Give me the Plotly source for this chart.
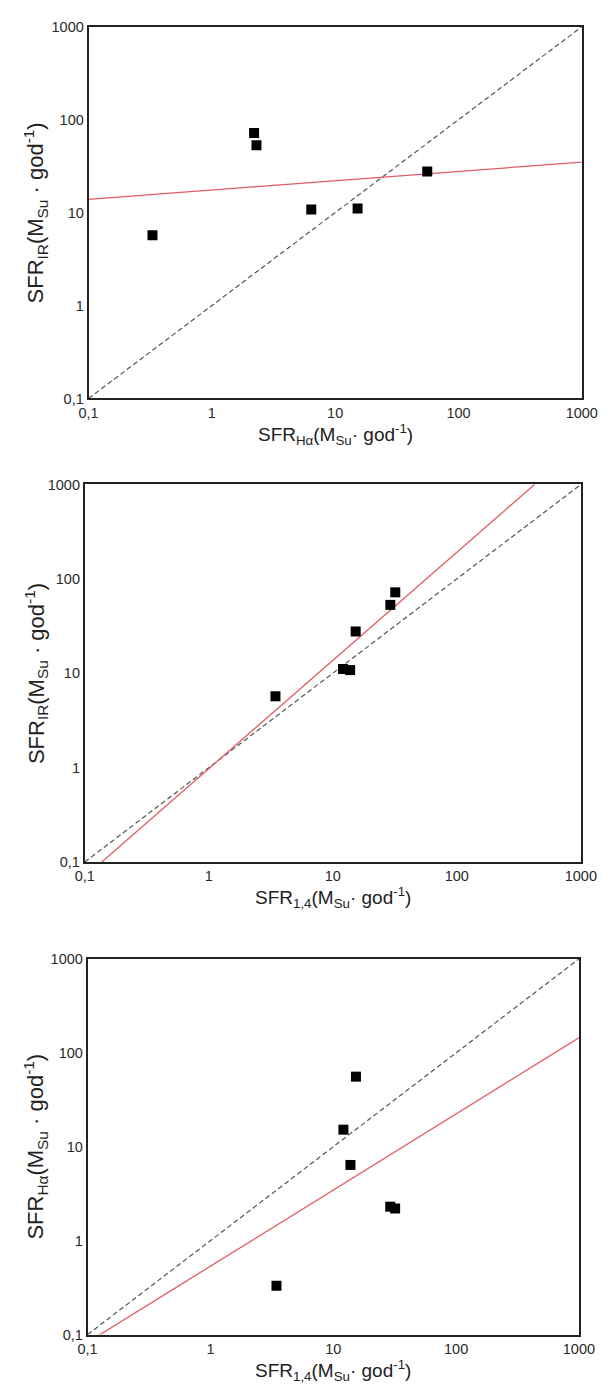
import plotly.graph_objects as go

# ---- data ----
sfr_ha = [0.33, 2.2, 2.3, 6.4, 15.2, 55.8]     # SFR(H-alpha)
sfr_ir = [5.7, 72, 53, 10.8, 11.1, 27.7]       # SFR(IR)
sfr_14 = [3.45, 31.9, 29.1, 13.8, 12.1, 15.3]  # SFR(1.4 GHz)

tick_vals = [0.1, 1, 10, 100, 1000]
tick_text = ["0,1", "1", "10", "100", "1000"]
axis_range = [0.1, 1000]

# fitted power laws  y = a * x**b  (red lines)
fit_ir_vs_ha = (17.5, 0.10)
fit_ir_vs_14 = (0.975, 1.146)
fit_ha_vs_14 = (0.535, 0.811)

W, H = 616, 1391
unit = "(M<sub>Su</sub> · god<sup>-1</sup>)"
unit_x = "(M<sub>Su</sub>· god<sup>-1</sup>)"
t_ha_x = "SFR<sub>Hα</sub>" + unit_x
t_14_x = "SFR<sub>1,4</sub>" + unit_x
t_ir_y = "SFR<sub>IR</sub>" + unit
t_ha_y = "SFR<sub>Hα</sub>" + unit

panels = [
    dict(x=sfr_ha, y=sfr_ir, fit=fit_ir_vs_ha, xt=t_ha_x, yt=t_ir_y,
         px=(82, 597), py=(19, 395), xty=431, ytx=27),
    dict(x=sfr_14, y=sfr_ir, fit=fit_ir_vs_14, xt=t_14_x, yt=t_ir_y,
         px=(78, 596), py=(482, 864), xty=900, ytx=27),
    dict(x=sfr_14, y=sfr_ha, fit=fit_ha_vs_14, xt=t_14_x, yt=t_ha_y,
         px=(81, 594), py=(962, 1342), xty=1378, ytx=27),
]

fig = go.Figure()
annotations = []
font = "Liberation Sans, Arial, sans-serif"

for i, p in enumerate(panels, start=1):
    xa = "x" if i == 1 else f"x{i}"
    ya = "y" if i == 1 else f"y{i}"
    # 1:1 dashed line
    fig.add_trace(go.Scatter(x=axis_range, y=axis_range, mode="lines",
                             line=dict(color="#555555", width=1.2, dash="5px,3px"),
                             xaxis=xa, yaxis=ya, showlegend=False, hoverinfo="skip"))
    # fit line
    a, b = p["fit"]
    fx = axis_range
    fy = [a * v ** b for v in fx]
    fig.add_trace(go.Scatter(x=fx, y=fy, mode="lines",
                             line=dict(color="#e25c62", width=1.3),
                             xaxis=xa, yaxis=ya, showlegend=False, hoverinfo="skip"))
    # data points
    fig.add_trace(go.Scatter(x=p["x"], y=p["y"], mode="markers",
                             marker=dict(symbol="square", size=10, color="black"),
                             xaxis=xa, yaxis=ya, showlegend=False))

    ax_common = dict(type="log", range=[-1, 3], tickvals=tick_vals, ticktext=tick_text,
                     showgrid=False, zeroline=False, showline=True, mirror=True,
                     linecolor="#222222", linewidth=1.7, ticks="",
                     tickfont=dict(family=font, size=14.5, color="#2a2a2a"))
    x0, x1 = p["px"]
    y0, y1 = p["py"]
    fig.update_layout(**{
        ("xaxis" if i == 1 else f"xaxis{i}"): dict(ax_common, domain=[x0 / W, x1 / W],
                                                   anchor=ya),
        ("yaxis" if i == 1 else f"yaxis{i}"): dict(ax_common, domain=[1 - y1 / H, 1 - y0 / H],
                                                   anchor=xa),
    })
    annotations.append(dict(text=p["xt"], x=(x0 + x1) / 2 / W, y=1 - p["xty"] / H,
                            xref="paper", yref="paper", showarrow=False,
                            xanchor="center", yanchor="middle",
                            font=dict(family=font, size=19, color="#222222")))
    annotations.append(dict(text=p["yt"], x=p["ytx"] / W, y=1 - (y0 + y1) / 2 / H,
                            xref="paper", yref="paper", showarrow=False, textangle=-90,
                            xanchor="center", yanchor="middle",
                            font=dict(family=font, size=22, color="#222222")))

fig.update_layout(width=W, height=H, margin=dict(l=0, r=0, t=0, b=0),
                  paper_bgcolor="white", plot_bgcolor="white",
                  annotations=annotations, showlegend=False)

fig.write_html("out.html")
